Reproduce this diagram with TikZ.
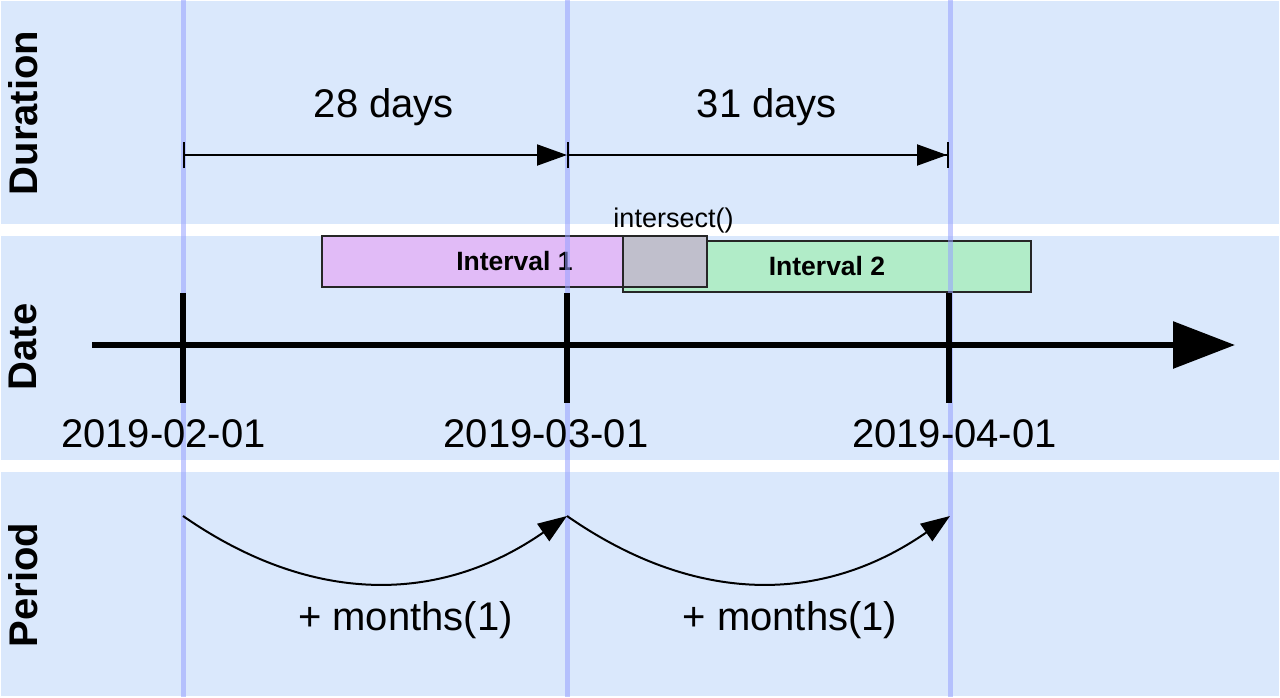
\documentclass[tikz,border=0pt]{standalone}
\usepackage{fontspec}
\setmainfont{Liberation Sans}
\usetikzlibrary{arrows.meta}
\definecolor{bandblue}{HTML}{DAE8FC}
\definecolor{gridblue}{RGB}{150,160,255}
\definecolor{ivpurple}{HTML}{E1BBF7}
\definecolor{ivgreen}{HTML}{B1ECC8}
\definecolor{ivgrey}{HTML}{C0BFCC}

\begin{document}
\begin{tikzpicture}[x=1pt,y=-1pt]
\tikzstyle{every node}=[inner sep=0pt];
\tikzstyle{big}=[font=\fontsize{40}{48}\selectfont];
\tikzstyle{side}=[font=\fontsize{40}{48}\selectfont\bfseries, rotate=90];
\tikzstyle{ivbox}=[draw=black!85, line width=2pt, minimum height=51pt, font=\fontsize{26.5}{32}\selectfont\bfseries];
\tikzstyle{span}=[line width=2pt, {Bar[width=26pt]}-{Triangle[length=30pt,width=21pt]}];
\tikzstyle{step arc}=[line width=2pt, -{Triangle[length=29pt,width=21pt]}];
\useasboundingbox (0,0) rectangle (1280,697);
% bands
\fill [bandblue] (1,1) rectangle (1279,224);
\fill [bandblue] (1,236) rectangle (1279,460);
\fill [bandblue] (1,472) rectangle (1279,696);
% intervals
\path (514.5,261.5) node [ivbox, fill=ivpurple, minimum width=385pt] (iv1) {Interval 1};
\path (827,266.5) node [ivbox, fill=ivgreen, minimum width=408pt] (iv2) {Interval 2};
\path (665,261.5) node [ivbox, fill=ivgrey, minimum width=84pt] (isect) {};
\path (673.5,227) node [anchor=base, font=\fontsize{27}{32}\selectfont] (isectlbl) {intersect()};
% guide lines
\foreach \gx in {183,567,950}
  \draw [gridblue, opacity=0.55, line width=5pt] (\gx,0) -- (\gx,697);
% time axis
\path (92,345) coordinate (a0) (1235,345) coordinate (a1);
\draw [line width=6pt, -{Triangle[length=62pt,width=46pt]}] (a0) -- (a1);
\foreach \tx [count=\i] in {183,567,949} {
  \path (\tx,293) coordinate (tt\i) (\tx,403) coordinate (tb\i);
  \draw [line width=6pt] (tt\i) -- (tb\i);
}
% durations
\path (183,155) coordinate (d0) (567,155) coordinate (d1) (949,155) coordinate (d2);
\draw [span] (d0) -- (d1);
\draw [span, {Bar[width=26pt]}-{Triangle[length=30pt,width=21pt] Bar[width=26pt]}] (d1) -- (d2);
% periods
\path (183,516) coordinate (p0) (567,516) coordinate (p1) (950,516) coordinate (p2);
\draw [step arc] (p0) .. controls +(128,89) and +(-128,89) .. (p1);
\draw [step arc] (p1) .. controls +(128,89) and +(-128,89) .. (p2);
% labels
\path (384,117) node [big, anchor=base] (dur1) {28 days};
\path (767,117) node [big, anchor=base] (dur2) {31 days};
\path (163.5,447) node [big, anchor=base] (date1) {2019-02-01};
\path (546,447) node [big, anchor=base] (date2) {2019-03-01};
\path (954.5,447) node [big, anchor=base] (date3) {2019-04-01};
\path (405.5,630) node [big, anchor=base] (per1) {+ months(1)};
\path (790,630) node [big, anchor=base] (per2) {+ months(1)};
\path (23,113) node [side] (lduration) {Duration};
\path (23,347) node [side] (ldate) {Date};
\path (23,585) node [side] (lperiod) {Period};
\end{tikzpicture}
\end{document}
